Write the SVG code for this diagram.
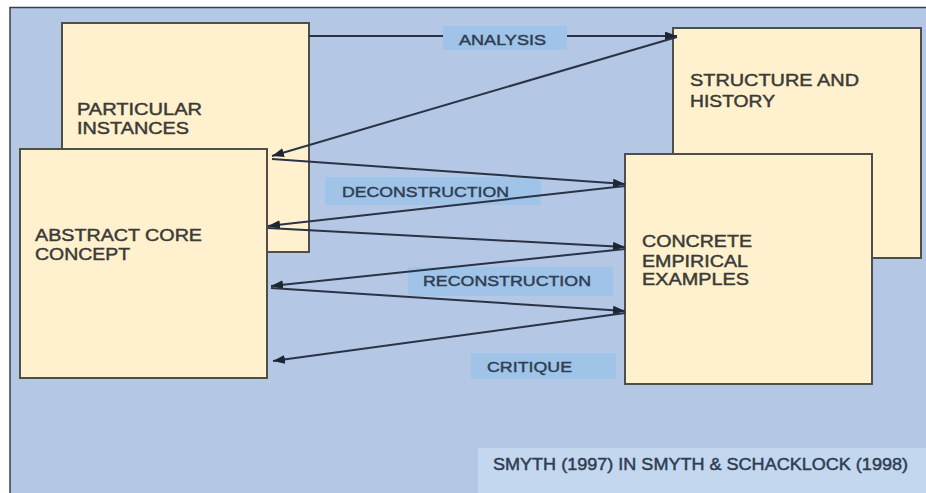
<svg xmlns="http://www.w3.org/2000/svg" width="926" height="493" viewBox="0 0 926 493">
  <defs>
    <marker id="arrow" markerUnits="userSpaceOnUse" markerWidth="14" markerHeight="10" refX="12" refY="4.5" orient="auto">
      <path d="M0,0 L12,4.5 L0,9 z" fill="#1f2633"/>
    </marker>
    <style>
      .box { fill: #fff1cd; stroke: #4e4e4a; stroke-width: 2; }
      .tag { fill: #9fc4e8; }
      .node-text { font-family: "Liberation Sans", Arial, sans-serif; font-size: 16.5px; fill: #3b3a36; stroke: #3b3a36; stroke-width: 0.45px; }
      .tag-text { font-family: "Liberation Sans", Arial, sans-serif; font-size: 15.5px; fill: #2f3d52; stroke: #2f3d52; stroke-width: 0.45px; }
      .link { fill: none; stroke: #2a3345; stroke-width: 2; marker-end: url(#arrow); }
    </style>
  </defs>

  <!-- page and slide frame -->
  <rect x="0" y="0" width="926" height="493" fill="#ffffff"/>
  <rect x="10" y="7" width="916" height="486" fill="#b4c7e5"/>
  <path d="M10,493 V7.5 H926" fill="none" stroke="#3a3f48" stroke-width="1.5"/>

  <!-- back boxes -->
  <g id="particular-instances">
    <rect class="box" x="62" y="23" width="247" height="229"/>
    <text class="node-text" x="77" y="115" textLength="125" lengthAdjust="spacingAndGlyphs">PARTICULAR</text>
    <text class="node-text" x="77" y="134" textLength="112" lengthAdjust="spacingAndGlyphs">INSTANCES</text>
  </g>
  <g id="structure-history">
    <rect class="box" x="673" y="28" width="248" height="230"/>
    <text class="node-text" x="690" y="86" textLength="169" lengthAdjust="spacingAndGlyphs">STRUCTURE AND</text>
    <text class="node-text" x="690" y="107" textLength="85" lengthAdjust="spacingAndGlyphs">HISTORY</text>
  </g>

  <!-- front boxes -->
  <g id="abstract-core-concept">
    <rect class="box" x="20" y="149" width="247" height="229"/>
    <text class="node-text" x="35" y="241" textLength="167" lengthAdjust="spacingAndGlyphs">ABSTRACT CORE</text>
    <text class="node-text" x="35" y="260" textLength="95" lengthAdjust="spacingAndGlyphs">CONCEPT</text>
  </g>
  <g id="concrete-empirical-examples">
    <rect class="box" x="625" y="154" width="247" height="230"/>
    <text class="node-text" x="642" y="247" textLength="110" lengthAdjust="spacingAndGlyphs">CONCRETE</text>
    <text class="node-text" x="642" y="267" textLength="106" lengthAdjust="spacingAndGlyphs">EMPIRICAL</text>
    <text class="node-text" x="642" y="285" textLength="107" lengthAdjust="spacingAndGlyphs">EXAMPLES</text>
  </g>

  <!-- process labels under the connectors -->
  <g id="label-deconstruction">
    <rect class="tag" x="325" y="177" width="216" height="28"/>
    <text class="tag-text" x="342" y="197" textLength="167" lengthAdjust="spacingAndGlyphs">DECONSTRUCTION</text>
  </g>
  <g id="label-reconstruction">
    <rect class="tag" x="408" y="267" width="205" height="29"/>
    <text class="tag-text" x="423" y="286" textLength="168" lengthAdjust="spacingAndGlyphs">RECONSTRUCTION</text>
  </g>
  <g id="label-critique">
    <rect class="tag" x="471" y="353" width="145" height="26"/>
    <text class="tag-text" x="487" y="372" textLength="85" lengthAdjust="spacingAndGlyphs">CRITIQUE</text>
  </g>

  <!-- connectors -->
  <g id="connectors">
    <path class="link" d="M309,36 H677"/>
    <path class="link" d="M677,37 L272,156"/>
    <path class="link" d="M272,159 L625,184"/>
    <path class="link" d="M625,186 L268,226"/>
    <path class="link" d="M268,228 L625,247"/>
    <path class="link" d="M625,249 L271,286"/>
    <path class="link" d="M271,288 L625,311"/>
    <path class="link" d="M625,313 L273,361"/>
  </g>

  <!-- label sitting over the analysis line -->
  <g id="label-analysis">
    <rect class="tag" x="443" y="26" width="124" height="24"/>
    <text class="tag-text" x="459" y="45" textLength="87" lengthAdjust="spacingAndGlyphs">ANALYSIS</text>
  </g>

  <!-- source note -->
  <g id="source-note">
    <rect x="478" y="448" width="448" height="45" fill="#c3d7ef"/>
    <text class="tag-text" x="493" y="470" textLength="415" lengthAdjust="spacingAndGlyphs" style="font-size:16px">SMYTH (1997) IN SMYTH &amp; SCHACKLOCK (1998)</text>
  </g>
</svg>
